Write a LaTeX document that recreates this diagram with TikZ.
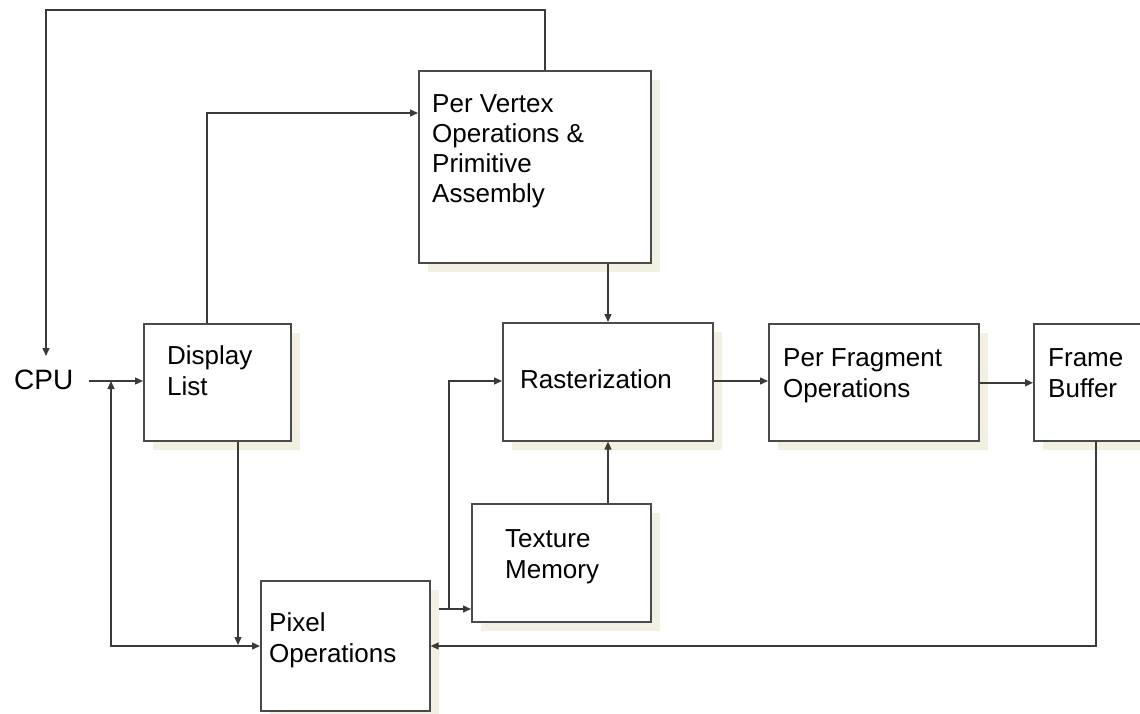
\documentclass[tikz,border=0pt]{standalone}
\usepackage{fontspec}
\setmainfont{Liberation Sans}
\usetikzlibrary{arrows.meta,calc}
\definecolor{shadowc}{HTML}{F2F0E3}
\definecolor{linec}{HTML}{3A3A3A}
\definecolor{boxc}{HTML}{4A4A4A}
\tikzset{
  box/.style={draw=boxc,line width=1.6pt,fill=white,anchor=north west,inner sep=0pt},
  shadowbox/.style={fill=shadowc,draw=none,anchor=north west,inner sep=0pt},
  lbl/.style={anchor=base west,inner sep=0pt,align=left,text=black,
    font=\fontsize{26}{31}\selectfont},
  conn/.style={draw=linec,line width=1.4pt},
  arr/.style={conn,-{Triangle[length=8pt,width=7pt]}},
  darr/.style={conn,{Triangle[length=8pt,width=7pt]}-{Triangle[length=8pt,width=7pt]}}
}
\newcommand{\shadowedbox}[5]{%
  \node[shadowbox,minimum width=#4pt,minimum height=#5pt] (#1s) at ($(#2,#3)+(10,10)$) {};
  \node[box,minimum width=#4pt,minimum height=#5pt] (#1) at (#2,#3) {};
}
\begin{document}
\begin{tikzpicture}[x=1pt,y=-1pt]
\useasboundingbox (0,0) rectangle (1140,713);
\clip (0,0) rectangle (1140,713);
% boxes
\shadowedbox{pv}{418}{70}{232}{192}
\shadowedbox{dl}{143}{323}{147}{117}
\shadowedbox{ra}{502}{322}{210}{118}
\shadowedbox{pf}{768}{323}{210}{117}
\shadowedbox{fb}{1033}{323}{140}{117}
\shadowedbox{tm}{471}{503}{179}{118}
\shadowedbox{po}{260}{580}{169}{130}
% labels (anchor at baseline of last line)
\node[lbl,font=\fontsize{26}{30}\selectfont] (pvt) at (432,202) {Per Vertex\\Operations \&\\Primitive\\Assembly};
\node[lbl] (dlt) at (167,395) {Display\\List};
\node[lbl] (rat) at (520,388) {Rasterization};
\node[lbl] (pft) at (783,397) {Per Fragment\\Operations};
\node[lbl] (fbt) at (1048,397) {Frame\\Buffer};
\node[lbl] (tmt) at (505,578) {Texture\\Memory};
\node[lbl] (pot) at (269,662) {Pixel\\Operations};
\node[anchor=base west,inner sep=0pt,font=\fontsize{28}{34}\selectfont] (cpu) at (14,389) {CPU};
% helper coordinates
\coordinate (cpuout) at (89,381);
\coordinate (cpuin) at (46,356);
\coordinate (top1) at (545,10);
\coordinate (top2) at (46,10);
\coordinate (j1) at (111,646);
\coordinate (dlup) at (207,113);
\coordinate (dldown) at (238,0);
\coordinate (pox) at (439,609);
\coordinate (pov) at (449,609);
\coordinate (fbx) at (1096,646);
\coordinate (rx) at (608,0);
% connectors
\draw[arr] (top1 |- pv.north) -- (top1) -- (top2) -- (cpuin);
\draw[arr] (cpuout) -- (cpuout -| dl.west);
\draw[darr] (j1 |- cpuout) -- (j1) -- (j1 -| po.west);
\draw[arr] (dlup |- dl.north) -- (dlup) -- (dlup -| pv.west);
\draw[arr] (dldown |- dl.south) -- ($(dldown |- j1)+(0,-1)$);
\draw[arr] (pox) -- (pox -| tm.west);
\draw[arr] (pov) -- (pov |- cpuout) -- (cpuout -| ra.west);
\draw[arr] (fbx |- fb.south) -- (fbx) -- (fbx -| po.east);
\draw[arr] (rx |- pv.south) -- (rx |- ra.north);
\draw[arr] (rx |- tm.north) -- (rx |- ra.south);
\draw[arr] (ra.east |- cpuout) -- (pf.west |- cpuout);
\draw[arr] ($(pf.east)+(0,0.5)$) -- ($(fb.west)+(0,0.5)$);
\end{tikzpicture}
\end{document}
